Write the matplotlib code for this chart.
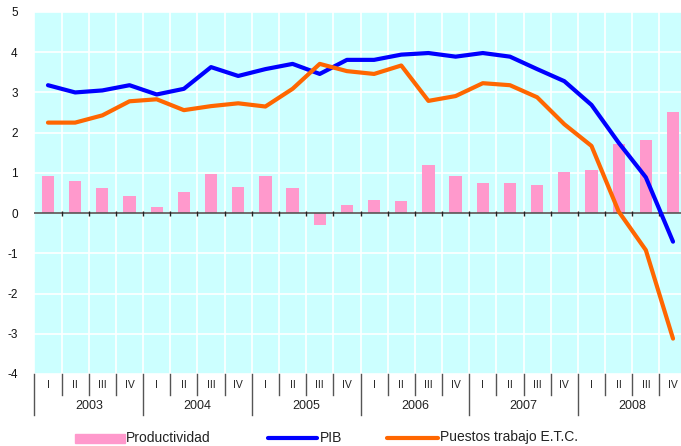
import matplotlib
matplotlib.use("Agg")
import matplotlib.pyplot as plt
from matplotlib.lines import Line2D
from matplotlib.patches import Rectangle
import matplotlib.transforms as mtransforms

plt.rcParams["font.family"] = ["Liberation Sans", "DejaVu Sans"]

# Data
years = ["2003", "2004", "2005", "2006", "2007", "2008"]
quarters = ["I", "II", "III", "IV"]

productividad = [0.92, 0.80, 0.62, 0.42, 0.14, 0.52, 0.97, 0.65,
                 0.92, 0.62, -0.29, 0.20, 0.33, 0.30, 1.19, 0.92,
                 0.75, 0.75, 0.70, 1.02, 1.07, 1.72, 1.82, 2.51]
pib = [3.18, 3.00, 3.05, 3.18, 2.95, 3.09, 3.63, 3.41,
       3.58, 3.71, 3.46, 3.81, 3.81, 3.94, 3.98, 3.89,
       3.98, 3.89, 3.58, 3.28, 2.69, 1.75, 0.89, -0.71]
puestos = [2.25, 2.25, 2.43, 2.78, 2.83, 2.56, 2.66, 2.73,
           2.65, 3.09, 3.71, 3.53, 3.46, 3.67, 2.79, 2.91,
           3.23, 3.18, 2.88, 2.21, 1.67, 0.04, -0.92, -3.12]

W, H = 681, 446
fig = plt.figure(figsize=(W / 100, H / 100), dpi=100)

# plot area in pixels: x 34.4..686.6, y 12..374
left, right, top, bottom = 34.4, 686.6, 12, 374
ax = fig.add_axes([left / W, 1 - bottom / H, (right - left) / W, (bottom - top) / H])
ax.set_facecolor("#CCFFFF")

n = len(pib)
x = list(range(n))

# grid
for yv in range(-4, 6):
    ax.axhline(yv, color="white", lw=1.2, zorder=1)
for k in range(n + 1):
    ax.axvline(k - 0.5, color="white", lw=1.2, zorder=1)

ax.bar(x, productividad, width=0.45, color="#FF99CC", zorder=2)

ax.axhline(0, color="#555555", lw=1.2, zorder=3)
ax.vlines([k + 0.5 for k in range(n - 1)], -0.06, 0.06, color="#222222", lw=1, zorder=3)

ax.plot(x, pib, color="#0000FF", lw=3, zorder=4, solid_capstyle="round")
ax.plot(x, puestos, color="#FF6600", lw=3, zorder=4, solid_capstyle="round")

ax.set_xlim(-0.5, n - 0.5)
ax.set_ylim(-4, 5)
ax.set_yticks(range(-4, 6))
ax.set_yticklabels([str(v) for v in range(-4, 6)], fontsize=8.5, color="#111111")
ax.tick_params(axis="y", length=0, pad=12)
ax.set_xticks([])
for s in ax.spines.values():
    s.set_visible(False)

# category axis below
trans = mtransforms.blended_transform_factory(ax.transData, fig.transFigure)
y_top = 1 - 374 / H
y_q = 1 - 395 / H
y_y = 1 - 415 / H
for k in range(n):
    xb = k - 0.5
    y_end = y_y if k % 4 == 0 else y_q
    ax.add_line(Line2D([xb, xb], [y_top, y_end], transform=trans, color="#555555",
                       lw=1, clip_on=False))
    ax.text(k, 1 - 385 / H, quarters[k % 4], transform=trans, ha="center", va="center",
            fontsize=7.5, color="#222222")
for i, yr in enumerate(years):
    ax.text(4 * i + 1.5, 1 - 406 / H, yr, transform=trans, ha="center", va="center",
            fontsize=9, color="#222222")

# legend
ly = 1 - 437.5 / H
fig.patches.append(Rectangle((75 / W, 1 - 443 / H), 50 / W, 9 / H, color="#FF99CC",
                             transform=fig.transFigure))
fig.text(126 / W, ly, "Productividad", fontsize=10, va="center", color="#222222")
fig.lines.append(Line2D([268 / W, 317 / W], [ly, ly], color="#0000FF", lw=3,
                        transform=fig.transFigure, solid_capstyle="round"))
fig.text(320 / W, ly, "PIB", fontsize=10, va="center", color="#222222")
fig.lines.append(Line2D([387 / W, 438 / W], [ly, ly], color="#FF6600", lw=3,
                        transform=fig.transFigure, solid_capstyle="round"))
fig.text(440 / W, ly, "Puestos trabajo E.T.C.", fontsize=10, va="center", color="#222222")

fig.savefig("out.png", dpi=100)
